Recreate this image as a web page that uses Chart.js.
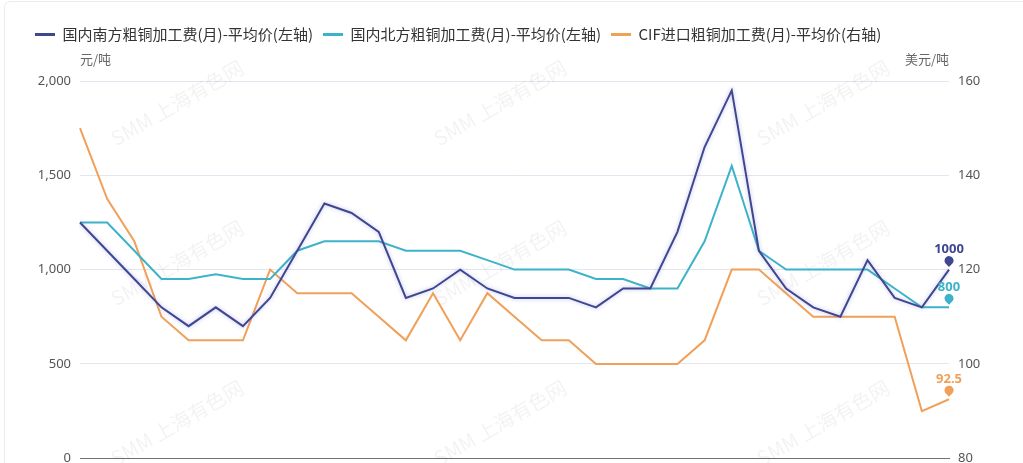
<!DOCTYPE html>
<html>
<head>
<meta charset="utf-8">
<script src="https://cdn.jsdelivr.net/npm/chart.js@4.4.0/dist/chart.umd.min.js"></script>
<style>
  html, body { margin: 0; padding: 0; background: #fff; }
  #wrap { position: relative; width: 1023px; height: 463px; overflow: hidden; }
  #frame { position: absolute; left: 4px; top: 1px; width: 1040px; height: 480px; border: 1px solid #ececec; border-radius: 6px; box-sizing: border-box; pointer-events: none; }
  canvas { position: absolute; left: 0; top: 0; }
</style>
</head>
<body>
<div id="wrap">
  <div id="frame"></div>
  <canvas id="lineChart" width="1023" height="475"></canvas>
</div>
<script>
// 月度数据（x 轴标签在原图中被裁掉）
const months = [
  "2021-01", "2021-02", "2021-03", "2021-04", "2021-05", "2021-06", "2021-07", "2021-08",
  "2021-09", "2021-10", "2021-11", "2021-12", "2022-01", "2022-02", "2022-03", "2022-04",
  "2022-05", "2022-06", "2022-07", "2022-08", "2022-09", "2022-10", "2022-11", "2022-12",
  "2023-01", "2023-02", "2023-03", "2023-04", "2023-05", "2023-06", "2023-07", "2023-08",
  "2023-09"
];

const southFee = [1250, 1100, 950, 800, 700, 800, 700, 850, 1100, 1350, 1300, 1200, 850, 900, 1000, 900,
  850, 850, 850, 800, 900, 900, 1200, 1650, 1950, 1100, 900, 800, 750, 1050, 850, 800, 1000];

const northFee = [1250, 1250, 1100, 950, 950, 975, 950, 950, 1100, 1150, 1150, 1150, 1100, 1100, 1100, 1050,
  1000, 1000, 1000, 950, 950, 900, 900, 1150, 1550, 1100, 1000, 1000, 1000, 1000, 900, 800, 800];

const cifFee = [150, 135, 126, 110, 105, 105, 105, 120, 115, 115, 115, 110, 105, 115, 105, 115,
  110, 105, 105, 100, 100, 100, 100, 105, 120, 120, 115, 110, 110, 110, 110, 90, 92.5];

const leftTicks = [0, 500, 1000, 1500, 2000];
const rightTicks = [80, 100, 120, 140, 160];

const seriesNames = [
  "国内南方粗铜加工费(月)-平均价(左轴)",
  "国内北方粗铜加工费(月)-平均价(左轴)",
  "CIF进口粗铜加工费(月)-平均价(右轴)"
];
const seriesColors = ["#3f478e", "#3db3c9", "#f0a059"];

// 图例下方留白
const legendMargin = {
  id: "legendMargin",
  beforeInit(chart) {
    const fit = chart.legend.fit;
    chart.legend.fit = function () {
      fit.bind(chart.legend)();
      this.height += 29;
    };
  }
};

// 水印 + 单位文字
const backdrop = {
  id: "backdrop",
  beforeDatasetsDraw(chart) {
    const ctx = chart.ctx;
    ctx.save();
    ctx.fillStyle = "rgba(0,0,0,0.05)";
    ctx.font = "20px 'Noto Sans CJK SC', sans-serif";
    ctx.textAlign = "center";
    ctx.textBaseline = "middle";
    [177, 500, 823].forEach((x) => {
      [103, 263, 423].forEach((y) => {
        ctx.save();
        ctx.translate(x, y);
        ctx.rotate(-Math.PI / 6);
        ctx.fillText("SMM 上海有色网", 0, 0);
        ctx.restore();
      });
    });
    ctx.restore();
  },
  afterDraw(chart) {
    const ctx = chart.ctx;
    const area = chart.chartArea;
    ctx.save();
    ctx.fillStyle = "#666";
    ctx.font = "13px 'Noto Sans CJK SC', sans-serif";
    ctx.textBaseline = "middle";
    ctx.textAlign = "left";
    ctx.fillText("元/吨", area.left, area.top - 22);
    ctx.textAlign = "right";
    ctx.fillText("美元/吨", area.right, area.top - 22);
    ctx.restore();
  }
};

// 南方线条的淡紫色光晕
const glow = {
  id: "glow",
  beforeDatasetDraw(chart, args) {
    if (args.index !== 0) return;
    chart.ctx.save();
    chart.ctx.shadowColor = "rgba(110,110,220,0.45)";
    chart.ctx.shadowBlur = 4;
  },
  afterDatasetDraw(chart, args) {
    if (args.index !== 0) return;
    chart.ctx.restore();
  }
};

// 最后一个点的标记和数值
const lastPointLabel = {
  id: "lastPointLabel",
  afterDatasetsDraw(chart) {
    const ctx = chart.ctx;
    chart.data.datasets.forEach((ds, i) => {
      const meta = chart.getDatasetMeta(i);
      const pt = meta.data[meta.data.length - 1];
      const val = ds.data[ds.data.length - 1];
      ctx.save();
      ctx.fillStyle = ds.borderColor;
      // pin
      ctx.beginPath();
      ctx.arc(pt.x, pt.y - 9, 4.5, Math.PI * 0.8, Math.PI * 2.2);
      ctx.lineTo(pt.x, pt.y - 2.5);
      ctx.closePath();
      ctx.fill();
      ctx.font = "bold 13px 'Noto Sans', sans-serif";
      ctx.textAlign = "center";
      ctx.textBaseline = "middle";
      ctx.fillText(String(val), pt.x, pt.y - 20);
      ctx.restore();
    });
  }
};

const ctx = document.getElementById("lineChart").getContext("2d");

new Chart(ctx, {
  type: "line",
  data: {
    labels: months,
    datasets: [
      { label: seriesNames[0], data: southFee, borderColor: seriesColors[0], yAxisID: "y" },
      { label: seriesNames[1], data: northFee, borderColor: seriesColors[1], yAxisID: "y" },
      { label: seriesNames[2], data: cifFee, borderColor: seriesColors[2], yAxisID: "y1" }
    ]
  },
  options: {
    responsive: false,
    animation: false,
    layout: { padding: { left: 25, right: 0, top: 17, bottom: 0 } },
    elements: {
      line: { borderWidth: 2, tension: 0 },
      point: { radius: 0 }
    },
    scales: {
      x: {
        ticks: { display: false },
        grid: { display: false, drawTicks: false },
        border: { display: true, color: "#6e7079", width: 1 }
      },
      y: {
        position: "left",
        min: 0,
        max: 2000,
        afterBuildTicks: (axis) => { axis.ticks = leftTicks.map((v) => ({ value: v })); },
        afterFit: (axis) => { axis.width = 55; },
        ticks: { color: "#555", font: { size: 13, family: "'Noto Sans', sans-serif" }, padding: 9 },
        grid: { color: "#e3e6ef", drawTicks: false },
        border: { display: false }
      },
      y1: {
        position: "right",
        min: 80,
        max: 160,
        afterBuildTicks: (axis) => { axis.ticks = rightTicks.map((v) => ({ value: v })); },
        afterFit: (axis) => { axis.width = 74; },
        ticks: { color: "#555", font: { size: 13, family: "'Noto Sans', sans-serif" }, padding: 9 },
        grid: { display: false, drawTicks: false },
        border: { display: false }
      }
    },
    plugins: {
      legend: {
        display: true,
        position: "top",
        align: "start",
        labels: {
          boxWidth: 20,
          boxHeight: 3,
          padding: 10,
          color: "#333",
          font: { size: 15, family: "'Noto Sans CJK SC', sans-serif" },
          generateLabels: (chart) =>
            Chart.defaults.plugins.legend.labels.generateLabels(chart).map((l) => {
              l.fillStyle = l.strokeStyle;
              l.lineWidth = 0;
              return l;
            })
        }
      },
      tooltip: { enabled: false }
    }
  },
  plugins: [legendMargin, backdrop, glow, lastPointLabel]
});
</script>
</body>
</html>
